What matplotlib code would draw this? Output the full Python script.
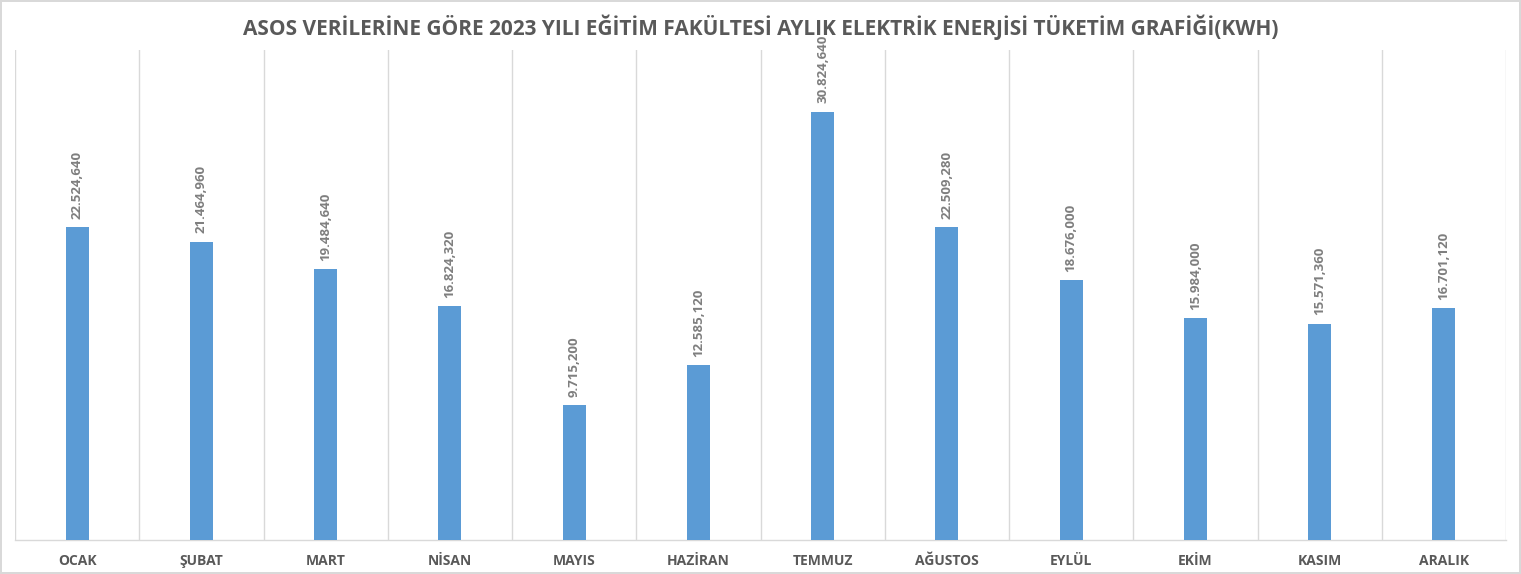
import matplotlib
matplotlib.use("Agg")
import matplotlib.pyplot as plt
import numpy as np

months = ["OCAK", "ŞUBAT", "MART", "NİSAN", "MAYIS", "HAZİRAN", "TEMMUZ",
          "AĞUSTOS", "EYLÜL", "EKİM", "KASIM", "ARALIK"]
values = [22524.64, 21464.96, 19484.64, 16824.32, 9715.20, 12585.12, 30824.64,
          22509.28, 18676.00, 15984.00, 15571.36, 16701.12]
title = "ASOS VERİLERİNE GÖRE 2023 YILI EĞİTİM FAKÜLTESİ AYLIK ELEKTRİK ENERJİSİ TÜKETİM GRAFİĞİ(KWH)"

def fmt(v):
    s = f"{v:,.3f}"
    return s.replace(",", "X").replace(".", ",").replace("X", ".")

plt.rcParams['font.family'] = ['Open Sans', 'DejaVu Sans']
fig = plt.figure(figsize=(15.21, 5.74), dpi=100)
fig.patch.set_facecolor("white")
fig.patch.set_edgecolor("#d9d9d9")
fig.patch.set_linewidth(1.5)

ax = fig.add_axes([15/1521, 1-540/574, 1491/1521, 490/574])
x = np.arange(len(months))
bars = ax.bar(x, values, width=0.185, color="#5B9BD5", zorder=3)
ax.set_xlim(-0.5, len(months) - 0.5)
ax.set_ylim(0, 35260)

for xi, v in zip(x, values):
    ax.annotate(fmt(v), (xi, v), xytext=(0, 6), textcoords="offset points",
                rotation=90, ha="center", va="bottom", fontsize=9.5,
                fontweight="bold", color="#7f7f7f")

ax.set_xticks(x)
ax.set_xticklabels(months, fontsize=10, fontweight="bold", color="#595959")
ax.tick_params(axis="x", length=0, pad=10)
ax.set_xticks(np.arange(-0.5, len(months)), minor=True)
ax.tick_params(axis="x", which="minor", length=0)
ax.grid(axis="x", which="minor", color="#d9d9d9", linewidth=1, zorder=0)
ax.grid(axis="x", which="major", visible=False)
ax.set_yticks([])
for s in ["left", "right", "top"]:
    ax.spines[s].set_visible(False)
ax.spines["bottom"].set_color("#d9d9d9")
ax.spines["bottom"].set_linewidth(1)

fig.text(0.5, 1-27/574, title, ha="center", va="center", fontsize=15,
         fontweight="bold", color="#595959")

fig.savefig("out.png", dpi=100, facecolor=fig.get_facecolor(),
            edgecolor=fig.get_edgecolor())
